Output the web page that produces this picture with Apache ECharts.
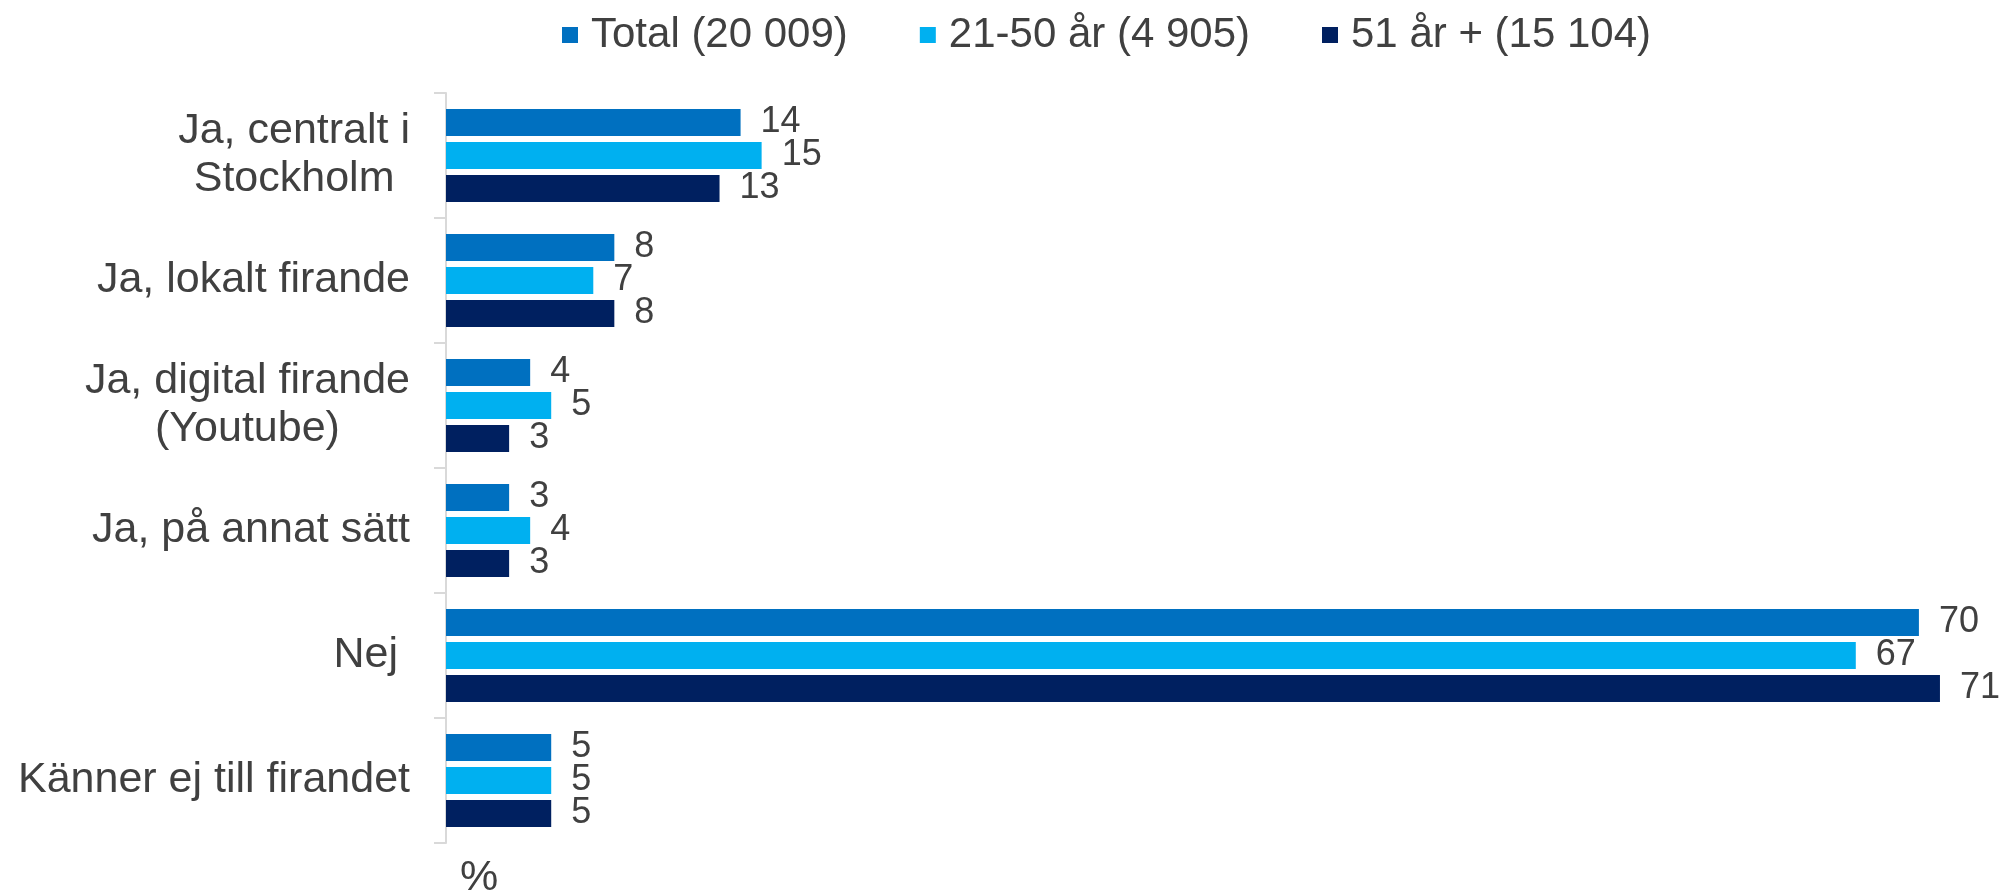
<!DOCTYPE html>
<html>
<head>
<meta charset="utf-8">
<script src="https://cdn.jsdelivr.net/npm/echarts@6/dist/echarts.min.js"></script>
<style>
  html, body { margin: 0; padding: 0; background: #fff; }
  #chart { width: 2000px; height: 892px; }
</style>
</head>
<body>
<div id="chart"></div>
<script>
// Answer categories (top to bottom)
const categories = [
  'Ja, centralt i\nStockholm',
  'Ja, lokalt firande',
  'Ja, digital firande\n(Youtube)',
  'Ja, på annat sätt',
  'Nej ',
  'Känner ej till firandet'
];

// Share of respondents, %
const totalValues = [14, 8, 4, 3, 70, 5];
const age21to50Values = [15, 7, 5, 4, 67, 5];
const age51plusValues = [13, 8, 3, 3, 71, 5];

const seriesNames = ['Total (20 009)', '21-50 år (4 905)', '51 år + (15 104)'];
const seriesColors = ['#0070C0', '#00B0F0', '#002060'];

const FONT = '"Liberation Sans", Arial, sans-serif';
const TEXT = '#404040';

const chart = echarts.init(document.getElementById('chart'), null, { renderer: 'canvas' });

function makeSeries(name, values, color) {
  return {
    name: name,
    type: 'bar',
    data: values,
    barWidth: 27,
    barGap: '22%',
    itemStyle: { color: color },
    label: {
      show: true,
      position: 'right',
      distance: 20,
      fontFamily: FONT,
      fontSize: 36,
      color: TEXT
    }
  };
}

chart.setOption({
  animation: false,
  backgroundColor: '#ffffff',
  textStyle: { fontFamily: FONT },
  legend: {
    left: 557,
    top: 9,
    itemWidth: 16,
    itemHeight: 16,
    itemGap: 72,
    icon: 'rect',
    textStyle: { fontFamily: FONT, fontSize: 42, color: TEXT, padding: [0, 0, 0, 8] },
    data: seriesNames
  },
  title: {
    text: '%',
    left: 455,
    top: 852,
    textStyle: { fontFamily: FONT, fontSize: 43, fontWeight: 'normal', color: TEXT }
  },
  grid: {
    left: 446,
    right: 39,
    top: 93,
    bottom: 49,
    containLabel: false
  },
  xAxis: {
    type: 'value',
    min: 0,
    max: 72,
    show: false
  },
  yAxis: {
    type: 'category',
    inverse: true,
    data: categories,
    axisLine: { show: true, lineStyle: { color: '#d9d9d9', width: 2 } },
    axisTick: { show: true, length: 12, lineStyle: { color: '#d9d9d9', width: 2 } },
    axisLabel: {
      margin: 36,
      align: 'right',
      formatter: function (value) {
        return value.split('\n').map(function (line) { return '{c|' + line + '}'; }).join('\n');
      },
      rich: {
        c: {
          align: 'center',
          fontFamily: FONT,
          fontSize: 43,
          lineHeight: 48,
          color: TEXT
        }
      }
    }
  },
  series: [
    makeSeries(seriesNames[0], totalValues, seriesColors[0]),
    makeSeries(seriesNames[1], age21to50Values, seriesColors[1]),
    makeSeries(seriesNames[2], age51plusValues, seriesColors[2])
  ]
});
</script>
</body>
</html>
